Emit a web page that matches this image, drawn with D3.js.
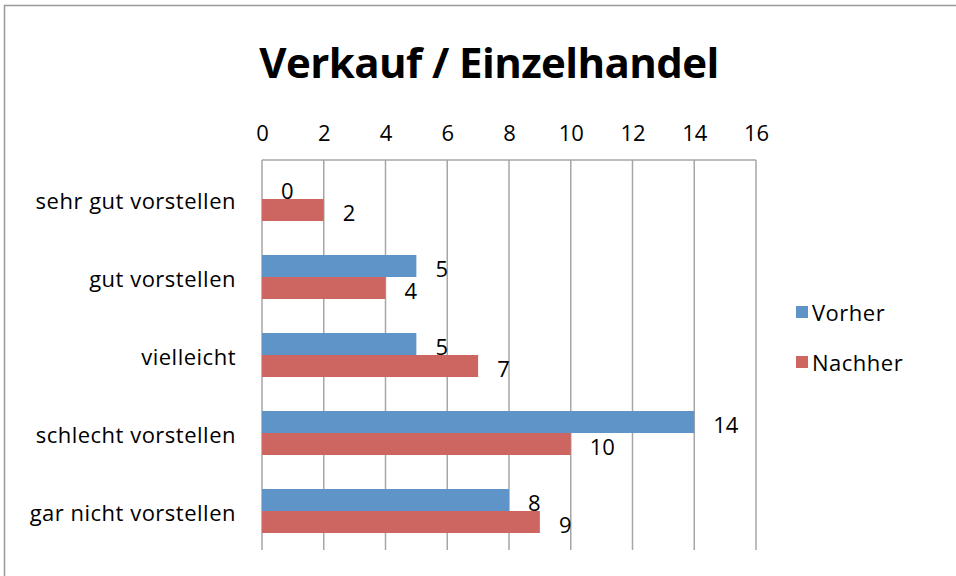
<!DOCTYPE html>
<html>
<head>
<meta charset="utf-8">
<script src="https://cdn.jsdelivr.net/npm/d3@7"></script>
<style>
body { margin: 0; background: #fff; }
text { font-family: "Open Sans", "Noto Sans", sans-serif; fill: #000; }
</style>
</head>
<body>
<svg width="956" height="576"></svg>
<script>
// Horizontal grouped bar chart, Excel style

var categories = ["sehr gut vorstellen", "gut vorstellen", "vielleicht", "schlecht vorstellen", "gar nicht vorstellen"];
var series_names = ["Vorher", "Nachher"];
var vorher = [0, 5, 5, 14, 8];
var nachher = [2, 4, 7, 10, 9];
var tick_values = [0, 2, 4, 6, 8, 10, 12, 14, 16];
var colors = ["#5F94C8", "#CD6660"];

var label_size = 22;

function draw(){
	var svg_handle = d3.select("svg");

	// chart frame
	svg_handle.append("rect")
		.attr("x", 4.5).attr("y", 5.5)
		.attr("width", 980).attr("height", 600)
		.attr("fill", "none")
		.attr("stroke", "#999").attr("stroke-width", 1.5);

	svg_handle.append("text")
		.attr("x", 489).attr("y", 78)
		.attr("text-anchor", "middle")
		.attr("font-size", 42).attr("font-weight", "bold")
		.attr("letter-spacing", -0.6)
		.text("Verkauf / Einzelhandel");

	var x = d3.scaleLinear().domain([0, 16]).range([262, 756]);
	var y = d3.scaleBand().domain(categories).range([160, 550]);
	var y_inner = d3.scaleBand().domain(series_names)
		.range([0, 44]);
	var pad = (y.bandwidth() - 44) / 2;

	// gridlines
	svg_handle.append("g")
		.selectAll("line")
		.data(tick_values)
		.enter().append("line")
		.attr("x1", d => x(d)).attr("x2", d => x(d))
		.attr("y1", 160)
		.attr("y2", 550)
		.attr("stroke", "#A6A6A6").attr("stroke-width", 1.5);
	svg_handle.append("line")
		.attr("x1", x(0)).attr("x2", x(16))
		.attr("y1", 160).attr("y2", 160)
		.attr("stroke", "#A6A6A6").attr("stroke-width", 1.5);

	// top axis labels
	var axis = svg_handle.append("g")
		.attr("transform", "translate(0,141)")
		.call(d3.axisTop(x).tickValues(tick_values).tickSize(0).tickPadding(0));
	axis.select(".domain").remove();
	axis.selectAll("text")
		.attr("font-size", label_size)
		.attr("font-family", "Open Sans, Noto Sans, sans-serif")
		.attr("fill", "#000");

	// category labels
	svg_handle.append("g")
		.selectAll("text")
		.data(categories)
		.enter().append("text")
		.attr("x", 236)
		.attr("y", c => y(c) + y.bandwidth() / 2 + 2)
		.attr("dy", "0.35em")
		.attr("text-anchor", "end")
		.attr("font-size", label_size)
		.attr("letter-spacing", 0.5)
		.text(c => c);

	var rows = [vorher, nachher];
	rows.forEach(function(values, si){
		var g = svg_handle.append("g");
		var name = series_names[si];
		g.selectAll("rect")
			.data(values)
			.enter().append("rect")
			.attr("x", x(0))
			.attr("y", (v, i) => y(categories[i]) + pad + y_inner(name))
			.attr("width", v => x(v) - x(0))
			.attr("height", y_inner.bandwidth())
			.attr("fill", colors[si]);
		g.selectAll("text")
			.data(values)
			.enter().append("text")
			.attr("x", v => x(v) + 19)
			.attr("y", (v, i) => y(categories[i]) + pad + y_inner(name) + y_inner.bandwidth() / 2 + 3)
			.attr("dy", "0.35em")
			.attr("font-size", label_size)
			.text(v => v);
	});

	// legend
	var legend = svg_handle.append("g")
		.selectAll("g")
		.data(series_names)
		.enter().append("g")
		.attr("transform", (n, i) => "translate(796," + (306 + i * 50) + ")");
	legend.append("rect")
		.attr("width", 12).attr("height", 12)
		.attr("fill", (n, i) => colors[i]);
	legend.append("text")
		.attr("x", 16).attr("y", 7)
		.attr("dy", "0.35em")
		.attr("font-size", label_size)
		.attr("letter-spacing", 0.5)
		.text(n => n);
}

draw();
</script>
</body>
</html>
